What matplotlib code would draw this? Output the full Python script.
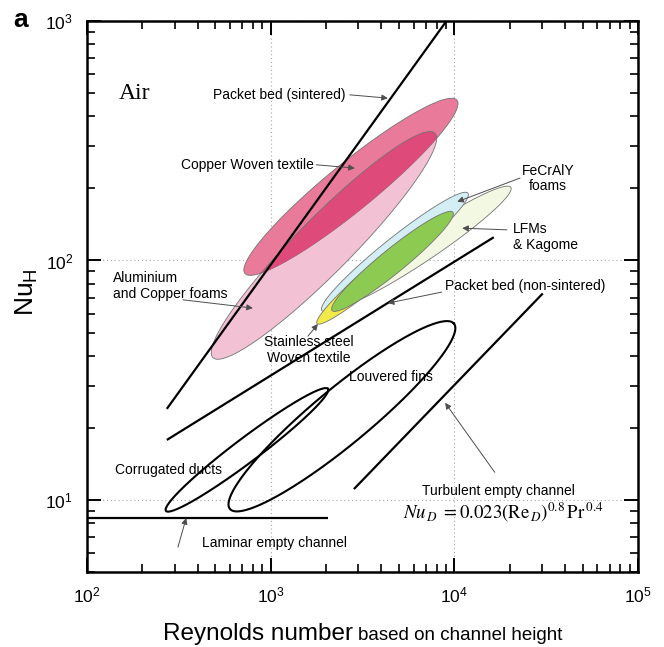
import numpy as np
import matplotlib
matplotlib.use("Agg")
import matplotlib.pyplot as plt
from matplotlib.ticker import NullFormatter

plt.rcParams['font.family'] = ['Liberation Sans', 'DejaVu Sans']
plt.rcParams['mathtext.fontset'] = 'custom'
plt.rcParams['mathtext.rm'] = 'Liberation Sans'
plt.rcParams['mathtext.it'] = 'Liberation Sans:italic'

# ---------------------------------------------------------
# data (Re, Nu_H)
# ---------------------------------------------------------
# straight correlations
sintered_re = [272, 9060]
sintered_nu = [24.0, 1000]
nonsint_re = [272, 16400]
nonsint_nu = [17.8, 125]
turb_re = [2840, 30300]
turb_nu = [11.1, 72.8]
lam_re = [100, 2050]
lam_nu = [8.4, 8.4]

# envelopes: Re at both tips, Nu at both tips, half width (fraction of axes)
foams_re, foams_nu, foams_w = [485, 7840], [39.3, 340], 0.050
cwoven_re, cwoven_nu, cwoven_w = [724, 10330], [88.3, 467], 0.043
lfm_re, lfm_nu, lfm_w = [2240, 20300], [64.8, 202], 0.026
fecr_re, fecr_nu, fecr_w = [1900, 11860], [61.8, 191], 0.024
ss_re, ss_nu, ss_w = [1790, 8890], [54.5, 154], 0.019
green_re, green_nu, green_w = [2160, 9820], [61.8, 159], 0.022
corr_re, corr_nu, corr_w = [269, 2050], [9.0, 29.1], 0.022
louv_re, louv_nu, louv_w = [600, 9950], [9.17, 54.5], 0.051

XLIM = (1e2, 1e5)
YLIM = (5, 1e3)


def envelope(re, nu, w, n=300):
    # ellipse drawn in log-log axes space, back to data values
    lx0, lx1 = np.log10(XLIM)
    ly0, ly1 = np.log10(YLIM)
    u = (np.log10(re) - lx0) / (lx1 - lx0)
    v = (np.log10(nu) - ly0) / (ly1 - ly0)
    cu, cv = u.mean(), v.mean()
    a = np.hypot(u[1] - u[0], v[1] - v[0]) / 2
    ang = np.arctan2(v[1] - v[0], u[1] - u[0])
    t = np.linspace(0, 2 * np.pi, n)
    x, y = a * np.cos(t), w * np.sin(t)
    uu = cu + x * np.cos(ang) - y * np.sin(ang)
    vv = cv + x * np.sin(ang) + y * np.cos(ang)
    return 10 ** (lx0 + uu * (lx1 - lx0)), 10 ** (ly0 + vv * (ly1 - ly0))


fig = plt.figure(figsize=(6.64, 6.47), dpi=100)
ax = fig.add_axes([87 / 664, 75 / 647, 551 / 664, 551 / 647])
ax.set_xscale('log'); ax.set_yscale('log')
ax.set_xlim(XLIM); ax.set_ylim(YLIM)

# pink envelopes
edge = dict(edgecolor='0.45', lw=0.6)
ax.fill(*envelope(foams_re, foams_nu, foams_w), facecolor='#f3c1d4', **edge)
cw = ax.fill(*envelope(cwoven_re, cwoven_nu, cwoven_w), facecolor='#e97a9a', **edge)[0]
dark = ax.fill(*envelope(foams_re, foams_nu, foams_w), facecolor='#de4a79', **edge)[0]
dark.set_clip_path(cw)

# metal foams / lattices
ax.fill(*envelope(lfm_re, lfm_nu, lfm_w), facecolor='#f3f8e3', **edge)
ax.fill(*envelope(fecr_re, fecr_nu, fecr_w), facecolor='#d3eef4', **edge)
ax.fill(*envelope(ss_re, ss_nu, ss_w), facecolor='#f2ea48', **edge)
ax.fill(*envelope(green_re, green_nu, green_w), facecolor='#8dca52', **edge)

# black outlines and lines
for re_, nu_, w_ in [(corr_re, corr_nu, corr_w), (louv_re, louv_nu, louv_w)]:
    ax.plot(*envelope(re_, nu_, w_), color='k', lw=1.5)
for re_, nu_ in [(sintered_re, sintered_nu), (nonsint_re, nonsint_nu),
                 (turb_re, turb_nu), (lam_re, lam_nu)]:
    ax.plot(re_, nu_, color='k', lw=1.6, solid_capstyle='butt')

# grid, ticks, spines
ax.grid(True, which='major', ls=(0, (1, 2.5)), color='0.65', lw=0.8)
ax.set_axisbelow(True)
ax.tick_params(which='both', direction='in', top=True, right=True)
ax.tick_params(which='major', length=10, width=1.4, labelsize=12.5, pad=10)
ax.tick_params(which='minor', length=5.5, width=1.2)
ax.xaxis.set_minor_formatter(NullFormatter())
ax.yaxis.set_minor_formatter(NullFormatter())
for s in ax.spines.values():
    s.set_linewidth(1.8)

# labels
fig.text(353 / 664, 7 / 647, 'Reynolds number', fontsize=17.5, ha='right', va='baseline')
fig.text(358 / 664, 7 / 647, 'based on channel height', fontsize=13.5, ha='left', va='baseline')
fig.text(27 / 664, 1 - 292 / 647, r'Nu$_\mathregular{H}$', fontsize=19, rotation=90,
         ha='center', va='center')
fig.text(13 / 664, 1 - 27 / 647, 'a', fontsize=19, fontweight='bold', va='baseline')

T = dict(transform=ax.transAxes, fontsize=10, va='center')
ax.text(0.087, 0.869, 'Air', family='Liberation Serif', fontsize=17, ha='center',
        transform=ax.transAxes, va='center')
ax.text(0.470, 0.866, 'Packet bed (sintered)', ha='right', **T)
ax.text(0.412, 0.739, 'Copper Woven textile', ha='right', **T)
ax.text(0.837, 0.714, 'FeCrAlY\nfoams', ha='center', linespacing=1.15, **T)
ax.text(0.773, 0.608, 'LFMs\n& Kagome', ha='left', linespacing=1.15, **T)
ax.text(0.650, 0.519, 'Packet bed (non-sintered)', ha='left', **T)
ax.text(0.047, 0.519, 'Aluminium\nand Copper foams', ha='left', linespacing=1.15, **T)
ax.text(0.403, 0.403, 'Stainless steel\nWoven textile', ha='center', linespacing=1.15, **T)
ax.text(0.4755, 0.354, 'Louvered fins', ha='left', **T)
ax.text(0.051, 0.185, 'Corrugated ducts', ha='left', **T)
ax.text(0.209, 0.053, 'Laminar empty channel', ha='left', **T)
ax.text(0.608, 0.147, 'Turbulent empty channel', ha='left', **T)
ax.text(0.573, 0.109, r'$Nu_{\,D}\; = 0.023(\mathrm{Re}_{\,D})^{0.8}\,\mathrm{Pr}^{\,0.4}$',
        math_fontfamily='stix', fontsize=13.5, ha='left', va='center', transform=ax.transAxes)

# leader arrows (tail -> head, axes fraction)
arrows = [((0.477, 0.866), (0.546, 0.860)),
          ((0.416, 0.739), (0.486, 0.733)),
          ((0.786, 0.715), (0.672, 0.672)),
          ((0.762, 0.621), (0.681, 0.624)),
          ((0.644, 0.508), (0.546, 0.488)),
          ((0.174, 0.494), (0.301, 0.479)),
          ((0.401, 0.428), (0.419, 0.450)),
          ((0.165, 0.045), (0.180, 0.098)),
          ((0.740, 0.181), (0.650, 0.307))]
for tail, head in arrows:
    ax.annotate('', xy=head, xytext=tail, xycoords='axes fraction',
                arrowprops=dict(arrowstyle='-|>', color='0.3', lw=0.7,
                                mutation_scale=9, shrinkA=0, shrinkB=0))

fig.savefig('out.png', dpi=100)
